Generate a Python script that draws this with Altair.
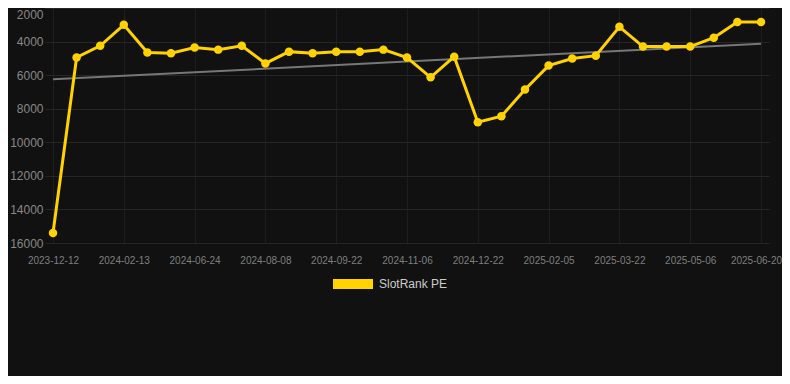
import altair as alt
import pandas as pd

dates = [
    "2023-12-12", "2024-01-02", "2024-01-23", "2024-02-13", "2024-05-25",
    "2024-06-09", "2024-06-24", "2024-07-09", "2024-07-24", "2024-08-08",
    "2024-08-23", "2024-09-07", "2024-09-22", "2024-10-07", "2024-10-22",
    "2024-11-06", "2024-11-21", "2024-12-07", "2024-12-22", "2025-01-06",
    "2025-01-21", "2025-02-05", "2025-02-20", "2025-03-07", "2025-03-22",
    "2025-04-06", "2025-04-21", "2025-05-06", "2025-05-21", "2025-06-05",
    "2025-06-20",
]
ranks = [
    15400, 4950, 4250, 3000, 4650, 4700, 4350, 4480, 4250, 5300,
    4600, 4700, 4600, 4600, 4480, 4950, 6130, 4900, 8800, 8450,
    6850, 5430, 5010, 4840, 3120, 4300, 4300, 4300, 3770, 2830,
    2830,
]
tick_dates = dates[::3]
y_ticks = [2000, 4000, 6000, 8000, 10000, 12000, 14000, 16000]
trend_dates = [dates[0], dates[-1]]
trend_values = [6250, 4130]
series_name = "SlotRank PE"

df = pd.DataFrame({"date": dates, "rank": ranks, "series": series_name})
tdf = pd.DataFrame({"date": trend_dates, "rank": trend_values})

FONT = "Liberation Sans"
YELLOW = "#FFD200"

xscale = alt.Scale(domain=dates, padding=0.339)
yscale = alt.Scale(domain=[2000, 16000], reverse=True, nice=False)

xaxis = alt.Axis(
    values=tick_dates, title=None, labelAngle=0, ticks=False, domain=False,
    labelColor="#7f7f7f", labelFontSize=10, labelFont=FONT, labelPadding=12,
    grid=True, gridColor="#1e1e1e", labelOverlap=False,
    labelOffset={"condition": {"test": f"datum.value == '{dates[-1]}'", "value": -5}, "value": 0},
)
yaxis = alt.Axis(
    values=y_ticks, title=None, ticks=False, domain=False, format="d",
    labelColor="#888888", labelFontSize=12, labelFont=FONT, labelPadding=2,
    grid=True, gridColor="#262626",
    labelOffset={"condition": {"test": f"datum.value == {y_ticks[0]}", "value": 6}, "value": 0},
)

trend = alt.Chart(tdf).mark_line(color="#777777", strokeWidth=2).encode(
    x=alt.X("date:O", scale=xscale, axis=xaxis),
    y=alt.Y("rank:Q", scale=yscale, axis=yaxis),
)

color = alt.Color(
    "series:N",
    scale=alt.Scale(domain=[series_name], range=[YELLOW]),
    legend=alt.Legend(
        title=None, orient="none", legendX=288, legendY=256,
        symbolType="M-1,-0.25H1V0.25H-1Z", symbolSize=1600,
        symbolFillColor=YELLOW, symbolStrokeWidth=0, symbolStrokeColor=YELLOW,
        labelColor="#cccccc", labelFontSize=12, labelFont=FONT,
        labelOffset=6, padding=0,
    ),
)

line = alt.Chart(df).mark_line(strokeWidth=3).encode(
    x=alt.X("date:O", scale=xscale, axis=xaxis),
    y=alt.Y("rank:Q", scale=yscale, axis=yaxis),
    color=color,
)
points = alt.Chart(df).mark_point(filled=True, size=72, opacity=1).encode(
    x=alt.X("date:O", scale=xscale, axis=xaxis),
    y=alt.Y("rank:Q", scale=yscale, axis=yaxis),
    color=alt.Color("series:N", scale=alt.Scale(domain=[series_name], range=[YELLOW]), legend=None),
)

chart = (
    alt.layer(trend, line, points)
    .properties(
        width=724, height=235,
        autosize=alt.AutoSizeParams(type="none"),
        padding={"left": 37, "top": 0, "right": 13, "bottom": 133},
        background="#111111",
    )
    .configure_view(stroke=None)
)

chart.save("out.html", embed_options={"renderer": "svg", "actions": False})
